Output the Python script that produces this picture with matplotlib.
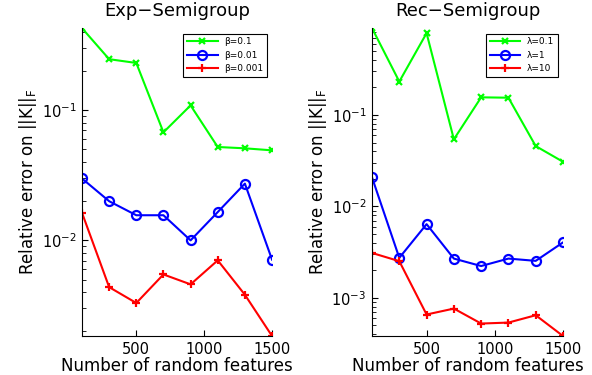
import numpy as np
import matplotlib
matplotlib.use('Agg')
import matplotlib.pyplot as plt

plt.rcParams['font.family'] = ['DejaVu Sans']
plt.rcParams['mathtext.fontset'] = 'dejavusans'

# numero de features aleatorias (eixo x)
n_features = [100, 300, 500, 700, 900, 1100, 1300, 1500]

# Exp-Semigroup
exp_labels = ['β=0.1', 'β=0.01', 'β=0.001']
exp_b01 = [0.428, 0.247, 0.231, 0.0677, 0.109, 0.0522, 0.0510, 0.0492]
exp_b001 = [0.0299, 0.0200, 0.0156, 0.0156, 0.0100, 0.0165, 0.0273, 0.00711]
exp_b0001 = [0.0163, 0.00437, 0.00330, 0.00547, 0.00459, 0.00702, 0.00382, 0.00184]

# Rec-Semigroup
rec_labels = ['λ=0.1', 'λ=1', 'λ=10']
rec_l01 = [0.891, 0.232, 0.785, 0.0542, 0.156, 0.1545, 0.0457, 0.0308]
rec_l1 = [0.0208, 0.00274, 0.0064, 0.00269, 0.00223, 0.00269, 0.00254, 0.00404]
rec_l10 = [0.0031, 0.00252, 0.000658, 0.000764, 0.000524, 0.000537, 0.000646, 0.000383]

xticks = [500, 1000, 1500]

fig = plt.figure(figsize=(5.92, 3.75), dpi=100)
ax1 = fig.add_axes([0.1385, 0.104, 0.321, 0.821])
ax2 = fig.add_axes([0.6284, 0.104, 0.3226, 0.821])

estilos = [dict(color=(0, 1, 0), marker='x', markersize=4, markeredgewidth=1.6),
           dict(color=(0, 0, 1), marker='o', markersize=6.5, markerfacecolor='none',
                markeredgewidth=1.6),
           dict(color=(1, 0, 0), marker='+', markersize=5.5, markeredgewidth=1.6)]


def desenha(ax, series, labels, titulo):
    for y, lab, est in zip(series, labels, estilos):
        ax.semilogy(n_features, y, lw=1.5, label=lab, **est)
    todos = np.concatenate([np.array(s) for s in series])
    ax.set_xlim(n_features[0], n_features[-1])
    ax.set_ylim(todos.min(), todos.max())
    ax.set_xticks(xticks)
    ax.set_title(titulo, fontsize=13, pad=9)
    ax.set_xlabel('Number of random features', fontsize=12, labelpad=0)
    ax.set_ylabel(r'Relative error on $\mathrm{||K||_F}$', fontsize=12, labelpad=2)
    ax.spines['top'].set_visible(False)
    ax.spines['right'].set_visible(False)
    ax.tick_params(which='both', direction='in', labelsize=10.5)
    ax.tick_params(which='major', length=4, pad=4)
    ax.tick_params(which='minor', length=3)
    leg = ax.legend(loc='upper right', fontsize=6.5, fancybox=False, framealpha=1,
                    edgecolor='black', handlelength=3.4, handletextpad=0.7,
                    borderaxespad=0.6, labelspacing=0.5)
    leg.get_frame().set_linewidth(0.8)


desenha(ax1, [exp_b01, exp_b001, exp_b0001], exp_labels, 'Exp\u2212Semigroup')
desenha(ax2, [rec_l01, rec_l1, rec_l10], rec_labels, 'Rec\u2212Semigroup')

fig.savefig('out.png', dpi=100)
